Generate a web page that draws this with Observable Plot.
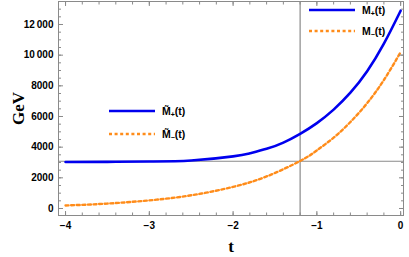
<!DOCTYPE html>
<html><head><meta charset="utf-8">
<script src="https://cdn.jsdelivr.net/npm/d3@7"></script>
<script src="https://cdn.jsdelivr.net/npm/@observablehq/plot@0.6"></script>
<style>
body{margin:0;background:#fff}
#c{position:relative;width:409px;height:257px;overflow:hidden}
#c svg{position:absolute;left:0;top:0}
.lg{position:absolute;display:flex;align-items:center;font:bold 10.5px "Liberation Sans",Arial,sans-serif;color:#000;white-space:nowrap}
.lg svg{position:static!important;margin-right:7px}
.lg sub{font-size:7px;vertical-align:-2px;line-height:0}
[aria-label="y-axis label"] text,[aria-label="x-axis label"] text{font:bold 17px "Liberation Serif","Times New Roman",serif}
</style></head><body><div id="c"></div>
<script>
// Data
const tPlus  = [-4, -3.5, -3, -2.5, -2, -1.8, -1.6, -1.4, -1.2, -1.0, -0.8, -0.6, -0.4, -0.2, 0];
const mPlus  = [3030, 3040, 3065, 3130, 3400, 3600, 3890, 4300, 4870, 5570, 6450, 7550, 8950, 10750, 12900];
const tMinus = [-4, -3.5, -3, -2.5, -2, -1.6, -1.2, -1.0, -0.8, -0.6, -0.4, -0.2, 0];
const mMinus = [195, 320, 530, 860, 1410, 2090, 3100, 3790, 4620, 5640, 6870, 8380, 10200];
const tRef = -1.2;
const mRef = 3080;
const xTicks = [-4, -3, -2, -1, 0];
const yTicks = [0, 2000, 4000, 6000, 8000, 10000, 12000];
const colors = ["#0000ee", "#ff8c1a"];

const plusData = tPlus.map((t, i) => ({t, m: mPlus[i]}));
const minusData = tMinus.map((t, i) => ({t, m: mMinus[i]}));
const xMinor = d3.range(-4, 0.001, 0.2).map(v => +v.toFixed(2));
const yMinor = d3.range(0, 13501, 500);

const fmtY = d => d >= 10000 ? d3.format(",")(d).replace(",", "\u2009") : String(d);
const fmtX = d => d < 0 ? "\u2212" + Math.abs(d) : String(d);
const grey = "#8a8a8a";
const blank = () => "";

const chart = Plot.plot({
  width: 409, height: 257,
  marginLeft: 58, marginRight: 6, marginTop: 1, marginBottom: 42,
  x: {domain: [-4.084, 0.034]},
  y: {domain: [-457, 13500]},
  style: {fontFamily: '"Liberation Sans", Arial, sans-serif', fontSize: "10px", fontWeight: "bold", color: "#000", background: "#fff"},
  marks: [
    Plot.ruleX([tRef], {stroke: grey, strokeWidth: 1.2}),
    Plot.ruleY([mRef], {stroke: grey, strokeWidth: 1.2}),
    Plot.line(minusData, {x: "t", y: "m", stroke: colors[1], strokeWidth: 2.4, strokeDasharray: "3,2.6", curve: "natural"}),
    Plot.line(plusData, {x: "t", y: "m", stroke: colors[0], strokeWidth: 2.6, curve: "natural"}),
    Plot.frame({stroke: grey}),
    Plot.axisX({anchor: "bottom", ticks: xTicks, tickSize: -4, tickPadding: 10, tickFormat: fmtX, stroke: grey, label: "t", labelAnchor: "center", labelArrow: "none", labelOffset: 36}),
    Plot.axisX({anchor: "bottom", ticks: xMinor, tickSize: -2.5, tickFormat: blank, stroke: grey, label: null}),
    Plot.axisX({anchor: "top", ticks: xTicks, tickSize: -4, tickFormat: blank, stroke: grey, label: null}),
    Plot.axisX({anchor: "top", ticks: xMinor, tickSize: -2.5, tickFormat: blank, stroke: grey, label: null}),
    Plot.axisY({anchor: "left", ticks: yTicks, tickSize: -5, tickPadding: 10, tickFormat: fmtY, stroke: grey, label: "GeV", labelAnchor: "center", labelArrow: "none", labelOffset: 47}),
    Plot.axisY({anchor: "left", ticks: yMinor, tickSize: -3, tickFormat: blank, stroke: grey, label: null}),
    Plot.axisY({anchor: "right", ticks: yTicks, tickSize: -5, tickFormat: blank, stroke: grey, label: null}),
    Plot.axisY({anchor: "right", ticks: yMinor, tickSize: -3, tickFormat: blank, stroke: grey, label: null})
  ]
});
const c = document.getElementById("c");
c.appendChild(chart);

function legendItem(left, top, color, dashed, html) {
  const d = document.createElement("div");
  d.className = "lg";
  d.style.left = left + "px";
  d.style.top = top + "px";
  d.innerHTML = `<svg width="46" height="4"><line x1="0" y1="2" x2="46" y2="2" stroke="${color}" stroke-width="${dashed ? 2.4 : 2.6}" ${dashed ? 'stroke-dasharray="3,2.6"' : ''}/></svg><span>${html}</span>`;
  c.appendChild(d);
}
legendItem(109, 105, colors[0], false, "M\u0303<sub>+</sub>(t)");
legendItem(109, 128, colors[1], true, "M\u0303<sub>\u2212</sub>(t)");
legendItem(309, 4, colors[0], false, "M<sub>+</sub>(t)");
legendItem(309, 25, colors[1], true, "M<sub>\u2212</sub>(t)");
</script></body></html>
